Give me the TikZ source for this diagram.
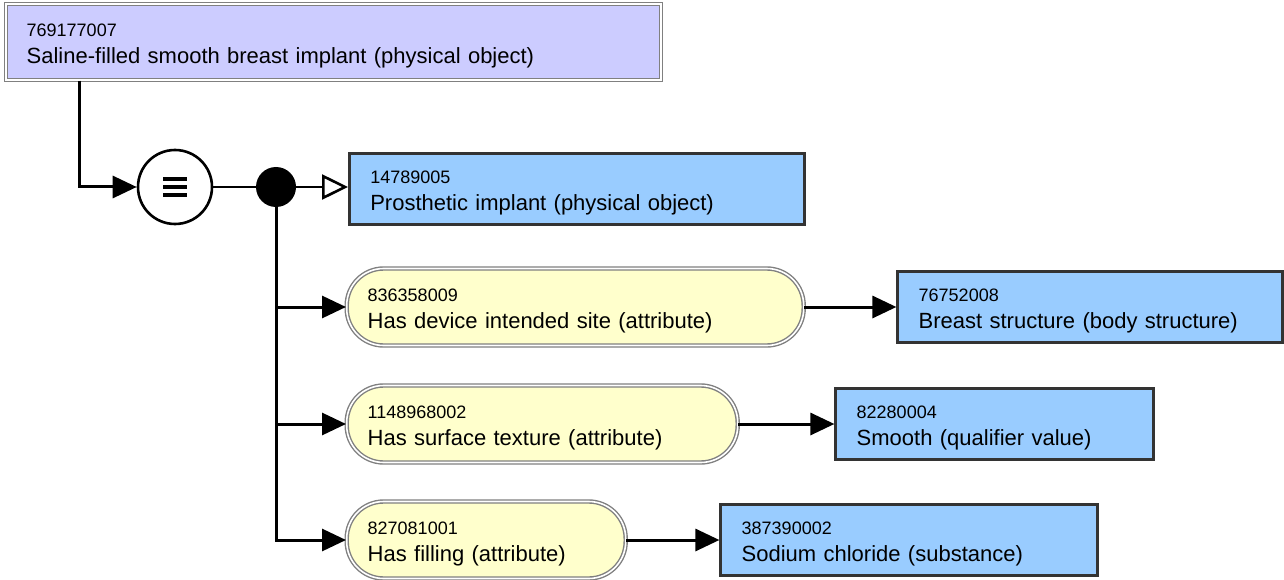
\documentclass[tikz,border=0pt]{standalone}
\usepackage{fontspec}
\setmainfont{Liberation Sans}
\usepackage{tikz}
\usetikzlibrary{arrows.meta,positioning}
\usepackage{xcolor}
\definecolor{rootfill}{HTML}{CCCCFF}
\definecolor{attfill}{HTML}{FFFFCC}
\definecolor{valfill}{HTML}{99CCFF}
\definecolor{valline}{HTML}{333333}
\definecolor{dblline}{HTML}{808080}
\newcommand{\conceptid}[1]{{\fontsize{18}{22}\selectfont\rule{0pt}{21pt}#1}}

\begin{document}
\begin{tikzpicture}[x=1pt, y=-1pt, every node/.style={font=\fontsize{22}{27}\selectfont}]
\tikzset{concept/.style={anchor=west, align=left, inner xsep=21pt, inner ysep=0pt}}
\tikzset{rootbox/.style={concept, draw=dblline, double=white, double distance=1.6pt, line width=1.4pt, fill=rootfill, minimum height=76pt}}
\tikzset{valbox/.style={concept, draw=valline, line width=2.6pt, fill=valfill, minimum height=71pt}}
\tikzset{attbox/.style={concept, draw=dblline, double=white, double distance=1.6pt, line width=1.4pt, fill=attfill, rounded corners=37pt, minimum height=77pt}}
\tikzset{arrow/.style={-{Triangle[length=24pt,width=22pt]}, line width=3pt}}
\tikzset{isa/.style={-{Triangle[open,length=26pt,width=25pt]}, line width=2.6pt}}
\useasboundingbox (0,0) rectangle (1284,580);
\node[rootbox, text width=613pt] (root) at (5,42) {\conceptid{769177007}\\Saline-filled smooth breast implant (physical object)};
\node[circle, draw, line width=2.6pt, fill=white, minimum size=74pt, inner sep=0pt,
  path picture={\foreach \dy in {-8,0,8} \draw[line width=3.2pt] ([shift={(-12,\dy)}]path picture bounding box.center) -- ++(24,0);}] (eq) at (175,187) {};
\node[circle, fill=black, minimum size=40pt, inner sep=0pt] (dot) at (276,187) {};
\node[valbox, text width=413pt] (proth) at (348,189) {\conceptid{14789005}\\Prosthetic implant (physical object)};
\node[attbox, text width=415pt] (att1) at (346,307) {\conceptid{836358009}\\Has device intended site (attribute)};
\node[attbox, text width=349pt] (att2) at (346,424) {\conceptid{1148968002}\\Has surface texture (attribute)};
\node[attbox, text width=237pt] (att3) at (346,540) {\conceptid{827081001}\\Has filling (attribute)};
\node[valbox, text width=343pt, right=92pt of att1] (breast) {\conceptid{76752008}\\Breast structure (body structure)};
\node[valbox, text width=276pt, right=96pt of att2] (smooth) {\conceptid{82280004}\\Smooth (qualifier value)};
\node[valbox, text width=335pt, right=93pt of att3] (sodium) {\conceptid{387390002}\\Sodium chloride (substance)};
\coordinate (bend) at (79,187);
\draw[arrow] (root.south -| bend) -- (bend) -- (eq.west);
\draw[line width=1.6pt] (eq.east) -- (dot);
\draw[isa] (dot) -- (dot -| proth.west);
\draw[arrow] (dot) |- (att1.west);
\draw[arrow] (dot) |- (att2.west);
\draw[arrow] (dot) |- (att3.west);
\draw[arrow] (att1.east) -- (breast.west);
\draw[arrow] (att2.east) -- (smooth.west);
\draw[arrow] (att3.east) -- (sodium.west);
\end{tikzpicture}
\end{document}
